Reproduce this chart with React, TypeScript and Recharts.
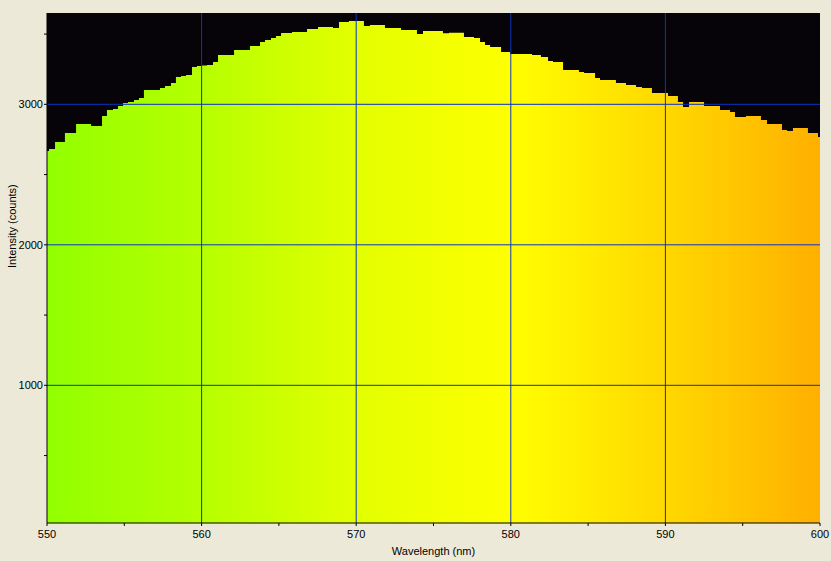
import { ComposedChart, Area, XAxis, YAxis, CartesianGrid, ReferenceLine } from 'recharts'

// step edges of the spectrum (nm) and the counts held from each edge
const WAVELENGTHS = [
  550.0, 550.13, 550.52, 551.16, 551.88, 552.85, 553.56, 553.88, 554.27, 554.59,
  554.92, 555.24, 555.63, 555.95, 556.27, 557.31, 557.63, 558.02, 558.34, 558.67,
  558.99, 559.38, 559.7, 560.03, 560.35, 560.74, 561.06, 562.1, 563.13, 563.78,
  564.1, 564.49, 564.81, 565.14, 565.85, 566.82, 567.53, 568.5, 568.89, 569.53,
  570.5, 570.89, 571.86, 572.9, 573.93, 574.32, 575.61, 576.0, 576.97, 577.62,
  578.01, 578.33, 578.66, 579.37, 579.95, 581.37, 581.95, 582.41, 582.73, 583.38,
  584.41, 584.74, 585.45, 585.77, 586.8, 587.45, 588.1, 588.49, 589.13, 590.17,
  590.81, 591.14, 591.53, 592.5, 593.53, 594.18, 594.5, 595.21, 596.18, 596.57,
  597.54, 597.87, 598.25, 599.22, 599.87, 600.0,
]
const COUNTS = [
  2668, 2682, 2732, 2796, 2860, 2846, 2917, 2959, 2967, 2988,
  3009, 3016, 3031, 3045, 3102, 3116, 3130, 3152, 3194, 3201,
  3209, 3265, 3273, 3276, 3280, 3301, 3351, 3386, 3415, 3443,
  3458, 3472, 3486, 3507, 3515, 3536, 3550, 3543, 3586, 3593,
  3557, 3564, 3543, 3529, 3500, 3522, 3505, 3510, 3479, 3472,
  3443, 3422, 3408, 3372, 3358, 3351, 3337, 3308, 3301, 3244,
  3230, 3223, 3187, 3173, 3152, 3137, 3123, 3116, 3080, 3059,
  3016, 2981, 3016, 2988, 2959, 2945, 2910, 2917, 2888, 2860,
  2817, 2810, 2831, 2796, 2767, 2767,
]

const X_TICKS = [550, 555, 560, 565, 570, 575, 580, 585, 590, 595, 600]
const Y_TICKS = [500, 1000, 1500, 2000, 2500, 3000, 3500]
const X_GRID = [560, 570, 580, 590]
const Y_GRID = [1000, 2000, 3000]

const data = WAVELENGTHS.map((wl, i) => ({ wl, counts: COUNTS[i] }))

const FONT = '"Liberation Sans", Arial, sans-serif'
const GRID = '#0a33c4'

export default function App() {
  return (
    <div style={{ position: 'absolute', left: 0, top: 0, width: 831, height: 561, background: '#ECE9D8' }}>
      <ComposedChart width={831} height={561} data={data} margin={{ top: 13, right: 11, left: 0, bottom: 0 }}>
        <defs>
          <linearGradient id="spectrum" x1="0" y1="0" x2="1" y2="0">
            <stop offset="0" stopColor="#92ff00" />
            <stop offset="0.2" stopColor="#b6ff00" />
            <stop offset="0.4" stopColor="#e3ff00" />
            <stop offset="0.6" stopColor="#ffff00" />
            <stop offset="0.8" stopColor="#ffd800" />
            <stop offset="1" stopColor="#ffb000" />
          </linearGradient>
        </defs>
        <CartesianGrid fill="#060409" horizontal={false} vertical={false} />
        <XAxis
          dataKey="wl"
          type="number"
          domain={[550, 600]}
          ticks={X_TICKS}
          allowDataOverflow
          height={38}
          tickSize={3}
          tickMargin={4}
          stroke="#000"
          tick={{ fontSize: 11, fill: '#000', fontFamily: FONT }}
          tickFormatter={(v: number) => (v % 10 === 0 ? String(v) : '')}
          label={{ value: 'Wavelength (nm)', position: 'insideBottom', offset: 6, fontSize: 11, fill: '#000', fontFamily: FONT }}
        />
        <YAxis
          type="number"
          domain={[20, 3650]}
          ticks={Y_TICKS}
          allowDataOverflow
          width={47}
          tickSize={3}
          tickMargin={1}
          stroke="#000"
          tick={{ fontSize: 11, fill: '#000', fontFamily: FONT }}
          tickFormatter={(v: number) => (v % 1000 === 0 ? String(v) : '')}
          label={{ value: 'Intensity (counts)', angle: -90, position: 'insideLeft', offset: 12, fontSize: 11, fill: '#000', fontFamily: FONT }}
        />
        <Area
          type="stepAfter"
          dataKey="counts"
          stroke="none"
          fill="url(#spectrum)"
          fillOpacity={1}
          dot={false}
          activeDot={false}
          isAnimationActive={false}
        />
        {X_GRID.map((x) => (
          <ReferenceLine key={'x' + x} x={x} stroke={GRID} strokeWidth={1} />
        ))}
        {Y_GRID.map((y) => (
          <ReferenceLine key={'y' + y} y={y} stroke={GRID} strokeWidth={1} />
        ))}
      </ComposedChart>
    </div>
  )
}
